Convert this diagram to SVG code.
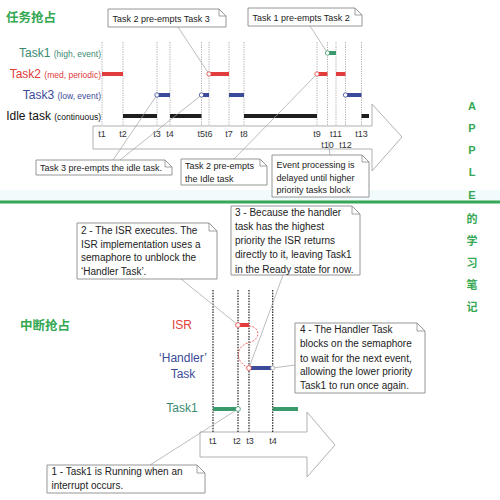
<svg xmlns="http://www.w3.org/2000/svg" width="500" height="500" viewBox="0 0 500 500">
<style>
.cjk{font-family:"Noto Sans CJK SC","Liberation Sans",sans-serif;font-weight:bold;fill:#34a852}
.lbl{font-family:"Liberation Sans",Arial,sans-serif}
.tm{font-family:"Liberation Sans",Arial,sans-serif;font-size:9px;fill:#333;text-anchor:middle}
.ct{font-family:"Liberation Sans",Arial,sans-serif;font-size:9px;fill:#222}
.cb{font-family:"Liberation Sans",Arial,sans-serif;font-size:10px;fill:#222}
.box{fill:#fff;stroke:#8a8a8a;stroke-width:0.9}
.fold{fill:none;stroke:#8a8a8a;stroke-width:0.8}
.vl{stroke:#9a9a9a;stroke-width:0.8;stroke-dasharray:1.2 1.2}
.vb{stroke:#222;stroke-width:1.2;stroke-dasharray:1.5 1.2}
.lead{stroke:#a0a0a0;stroke-width:0.7;fill:none}
.arr{fill:#fff;stroke:#a8a8a8;stroke-width:0.9}
.g{stroke:#3a9a6c;stroke-width:4}
.r{stroke:#e23c3c;stroke-width:4}
.b{stroke:#3c4a9c;stroke-width:4}
.k{stroke:#1e1e1e;stroke-width:4}
.dot{fill:#fff;stroke-width:0.8}
.vert{font-family:"Liberation Sans","Noto Sans CJK SC",sans-serif;font-weight:bold;font-size:11px;fill:#34a852;text-anchor:middle}
</style>
<rect x="0" y="0" width="500" height="500" fill="#fff"/>
<rect x="0" y="190" width="500" height="11" fill="#f1fbfb"/>
<line x1="0" y1="202" x2="500" y2="202" stroke="#35a855" stroke-width="3"/>

<g id="title-top"><text class="cjk" x="6" y="22" font-size="12.5">任务抢占</text></g>
<g id="title-bottom"><text class="cjk" x="20" y="330" font-size="12.5">中断抢占</text></g>

<g id="side-text">
<text class="vert" x="472" y="110">A</text>
<text class="vert" x="472" y="132">P</text>
<text class="vert" x="472" y="154">P</text>
<text class="vert" x="472" y="176">L</text>
<text class="vert" x="472" y="199">E</text>
<text class="vert" x="472" y="223" font-size="12">的</text>
<text class="vert" x="472" y="245" font-size="12">学</text>
<text class="vert" x="472" y="267" font-size="12">习</text>
<text class="vert" x="472" y="289" font-size="12">笔</text>
<text class="vert" x="472" y="311" font-size="12">记</text>
</g>

<!-- TOP TIMELINE -->
<g id="top-arrow"><path class="arr" d="M93,126 H372 V104 L402,137 L372,171 V149 H93 Z"/></g>

<g id="top-gridlines">
<line class="vl" x1="102" y1="42" x2="102" y2="126"/>
<line class="vl" x1="123" y1="42" x2="123" y2="126"/>
<line class="vl" x1="157" y1="42" x2="157" y2="126"/>
<line class="vl" x1="170" y1="42" x2="170" y2="126"/>
<line class="vl" x1="201.5" y1="42" x2="201.5" y2="126"/>
<line class="vl" x1="209" y1="42" x2="209" y2="126"/>
<line class="vl" x1="229" y1="42" x2="229" y2="126"/>
<line class="vl" x1="244" y1="42" x2="244" y2="126"/>
<line class="vl" x1="317" y1="42" x2="317" y2="126"/>
<line class="vl" x1="327.5" y1="42" x2="327.5" y2="126"/>
<line class="vl" x1="336" y1="42" x2="336" y2="126"/>
<line class="vl" x1="345.5" y1="42" x2="345.5" y2="126"/>
<line class="vl" x1="361.5" y1="42" x2="361.5" y2="126"/>
</g>

<g id="top-labels">
<text class="lbl" x="101" y="57" text-anchor="end" fill="#3a8a72"><tspan font-size="12">Task1 </tspan><tspan font-size="8.5">(high, event)</tspan></text>
<text class="lbl" x="101" y="78" text-anchor="end" fill="#e03a3a"><tspan font-size="12">Task2 </tspan><tspan font-size="8.5">(med, periodic)</tspan></text>
<text class="lbl" x="101" y="99" text-anchor="end" fill="#3c4a9a"><tspan font-size="12">Task3 </tspan><tspan font-size="8.5">(low, event)</tspan></text>
<text class="lbl" x="101" y="120" text-anchor="end" fill="#111"><tspan font-size="12">Idle task </tspan><tspan font-size="8.5">(continuous)</tspan></text>
</g>

<g id="top-bars">
<line class="g" x1="327.5" y1="53" x2="336" y2="53"/>
<line class="r" x1="102" y1="74" x2="123" y2="74"/>
<line class="r" x1="209" y1="74" x2="229" y2="74"/>
<line class="r" x1="317" y1="74" x2="327.5" y2="74"/>
<line class="r" x1="336" y1="74" x2="345.5" y2="74"/>
<line class="b" x1="157" y1="95" x2="170" y2="95"/>
<line class="b" x1="201.5" y1="95" x2="209" y2="95"/>
<line class="b" x1="229" y1="95" x2="244" y2="95"/>
<line class="b" x1="345.5" y1="95" x2="361.5" y2="95"/>
<line class="k" x1="123" y1="116" x2="157" y2="116"/>
<line class="k" x1="170" y1="116" x2="201.5" y2="116"/>
<line class="k" x1="244" y1="116" x2="317" y2="116"/>
<line class="k" x1="361.5" y1="116" x2="369" y2="116"/>
</g>

<g id="top-times">
<text class="tm" x="102" y="137">t1</text>
<text class="tm" x="123" y="137">t2</text>
<text class="tm" x="157" y="137">t3</text>
<text class="tm" x="170" y="137">t4</text>
<text class="tm" x="205" y="137">t5t6</text>
<text class="tm" x="229" y="137">t7</text>
<text class="tm" x="244" y="137">t8</text>
<text class="tm" x="317" y="137">t9</text>
<text class="tm" x="336" y="137">t11</text>
<text class="tm" x="361.5" y="137">t13</text>
<text class="tm" x="327.5" y="148">t10</text>
<text class="tm" x="345.5" y="148">t12</text>
</g>

<!-- BOTTOM TIMELINE -->
<g id="bottom-arrow"><path class="arr" d="M200,432 H307 V412 L335,445 L307,477 V457 H200 Z"/></g>
<g id="bottom-gridlines">
<line class="vb" x1="213" y1="290" x2="213" y2="432"/>
<line class="vb" x1="238" y1="290" x2="238" y2="432"/>
<line class="vb" x1="249" y1="290" x2="249" y2="432"/>
<line class="vb" x1="272.7" y1="290" x2="272.7" y2="432"/>
</g>
<g id="bottom-labels">
<text class="lbl" x="182" y="329" font-size="12" text-anchor="middle" fill="#e0403a">ISR</text>
<text class="lbl" x="183" y="362" font-size="12" text-anchor="middle" fill="#3c4a9a">‘Handler’</text>
<text class="lbl" x="183" y="378" font-size="12" text-anchor="middle" fill="#3c4a9a">Task</text>
<text class="lbl" x="182" y="412" font-size="12" text-anchor="middle" fill="#3a8a72">Task1</text>
</g>
<g id="bottom-bars">
<line class="r" x1="238" y1="325" x2="249" y2="325"/>
<line class="b" x1="249" y1="368" x2="272.7" y2="368"/>
<line class="g" x1="213" y1="409" x2="238" y2="409"/>
<line class="g" x1="272.7" y1="409" x2="298" y2="409"/>
<path d="M249,326 C260,326 262,340 248,343 C236,346 234,362 249,368" fill="none" stroke="#e04040" stroke-width="0.8" stroke-dasharray="2 1.5"/>
</g>
<g id="bottom-times">
<text class="tm" x="213" y="444">t1</text>
<text class="tm" x="237" y="444">t2</text>
<text class="tm" x="250" y="444">t3</text>
<text class="tm" x="273" y="444">t4</text>
</g>

<!-- CONNECTORS (leader lines) -->
<g id="connectors">
<line class="lead" x1="178" y1="27" x2="209" y2="74"/>
<line class="lead" x1="310" y1="26" x2="327.5" y2="53"/>
<line class="lead" x1="113" y1="160" x2="157" y2="95"/>
<line class="lead" x1="120" y1="160" x2="201.5" y2="95"/>
<line class="lead" x1="234" y1="159" x2="317" y2="74"/>
<line class="lead" x1="330" y1="155" x2="328" y2="141"/>
<line class="lead" x1="181" y1="279" x2="238" y2="325"/>
<line class="lead" x1="283" y1="275" x2="249" y2="368"/>
<line class="lead" x1="295" y1="365" x2="272.7" y2="368"/>
<line class="lead" x1="150" y1="465" x2="238" y2="409"/>
<circle class="dot" cx="209" cy="74" r="2.2" stroke="#e04040"/>
<circle class="dot" cx="317" cy="74" r="2.2" stroke="#e04040"/>
<circle class="dot" cx="327.5" cy="53" r="2.2" stroke="#3a9a6c"/>
<circle class="dot" cx="157" cy="95" r="2.2" stroke="#3c4a9c"/>
<circle class="dot" cx="201.5" cy="95" r="2.2" stroke="#3c4a9c"/>
<circle class="dot" cx="345.5" cy="95" r="2.2" stroke="#3c4a9c"/>
<circle class="dot" cx="238" cy="325" r="2.4" stroke="#e04040"/>
<circle class="dot" cx="249" cy="368" r="2.4" stroke="#e04040"/>
<circle class="dot" cx="272.7" cy="368" r="2" stroke="#aaa"/>
<circle class="dot" cx="238" cy="409" r="2.4" stroke="#3a9a6c"/>
</g>

<!-- CALLOUT NODES -->
<g id="note-t2-t3">
<path class="box" d="M108,9 H219 L226,16 V27 H108 Z"/><path class="fold" d="M219,9 V16 H226"/>
<text class="ct" x="112.5" y="21.5">Task 2 pre-empts Task 3</text>
</g>
<g id="note-t1-t2">
<path class="box" d="M248,8 H355 L362,15 V26 H248 Z"/><path class="fold" d="M355,8 V15 H362"/>
<text class="ct" x="252.5" y="20.5">Task 1 pre-empts Task 2</text>
</g>
<g id="note-t3-idle">
<path class="box" d="M36,160 H165 L172,167 V175 H36 Z"/><path class="fold" d="M165,160 V167 H172"/>
<text class="ct" x="40" y="171">Task 3 pre-empts the idle task.</text>
</g>
<g id="note-t2-idle">
<path class="box" d="M181,159 H260 L267,166 V185 H181 Z"/><path class="fold" d="M260,159 V166 H267"/>
<text class="ct" x="185" y="168.5">Task 2 pre-empts</text>
<text class="ct" x="185" y="181.5">the Idle task</text>
</g>
<g id="note-event">
<path class="box" d="M272,155 H362 L369,162 V197 H272 Z"/><path class="fold" d="M362,155 V162 H369"/>
<text class="ct" x="276.5" y="167.5">Event processing is</text>
<text class="ct" x="276.5" y="180.5">delayed until higher</text>
<text class="ct" x="276.5" y="193">priority tasks block</text>
</g>
<g id="note-2">
<path class="box" d="M77,223 H209 L217,231 V279 H77 Z"/><path class="fold" d="M209,223 V231 H217"/>
<text class="cb" x="81" y="233.5">2 - The ISR executes.  The</text>
<text class="cb" x="81" y="247.5">ISR implementation uses a</text>
<text class="cb" x="81" y="261">semaphore to unblock the</text>
<text class="cb" x="81" y="275">‘Handler Task’.</text>
</g>
<g id="note-3">
<path class="box" d="M231,206 H352 L360,214 V275 H231 Z"/><path class="fold" d="M352,206 V214 H360"/>
<text class="cb" x="235" y="216">3 - Because the handler</text>
<text class="cb" x="235" y="230">task has the highest</text>
<text class="cb" x="235" y="244">priority the ISR returns</text>
<text class="cb" x="235" y="258">directly to it, leaving Task1</text>
<text class="cb" x="235" y="272.5">in the Ready state for now.</text>
</g>
<g id="note-4">
<path class="box" d="M295,323 H417 L425,331 V393 H295 Z"/><path class="fold" d="M417,323 V331 H425"/>
<text class="cb" x="300" y="332.5">4 - The Handler Task</text>
<text class="cb" x="300" y="346.5">blocks on the semaphore</text>
<text class="cb" x="300" y="361.5">to wait for the next event,</text>
<text class="cb" x="300" y="375">allowing the lower priority</text>
<text class="cb" x="300" y="388.5">Task1 to run once again.</text>
</g>
<g id="note-1">
<path class="box" d="M47,465 H197 L205,473 V493 H47 Z"/><path class="fold" d="M197,465 V473 H205"/>
<text class="cb" x="51.5" y="475">1 - Task1 is Running when an</text>
<text class="cb" x="51.5" y="489">interrupt occurs.</text>
</g>
</svg>
